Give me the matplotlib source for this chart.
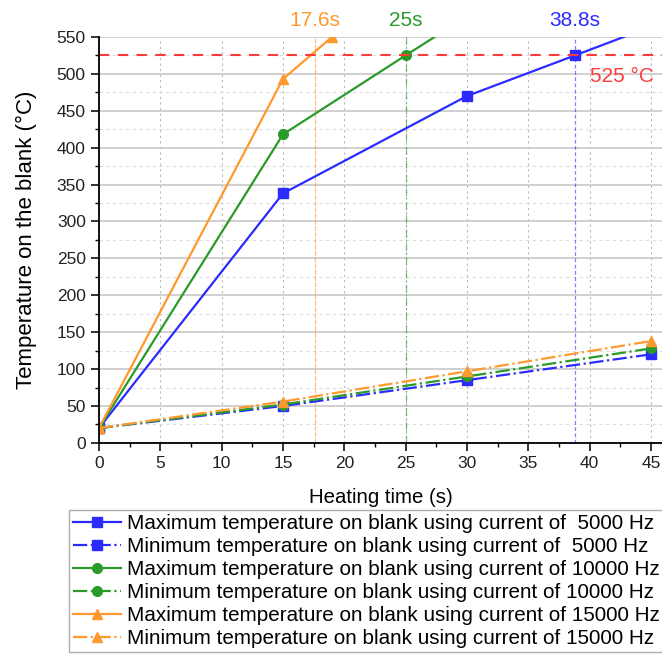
import matplotlib.pyplot as plt
from matplotlib.ticker import MultipleLocator

plt.rcParams['font.family'] = ['Liberation Sans', 'DejaVu Sans']

# heating time (s)
t_max_5k = [0, 15, 30, 38.8, 45]
t_max_10k = [0, 15, 25, 30]
t_max_15k = [0, 15, 19]
t_min = [0, 15, 30, 45]

# temperatures (deg C)
max_5k = [20, 338, 470, 525, 564]
max_10k = [20, 418, 525, 578]
max_15k = [20, 493, 550]
min_5k = [20, 50, 85, 120]
min_10k = [20, 52, 90, 128]
min_15k = [20, 56, 97, 138]

target_temp = 525
reach_times = [17.6, 25, 38.8]
reach_labels = ['17.6s', '25s', '38.8s']

blue = '#2b2bff'
green = '#2a9a2a'
orange = '#ff982e'
red = '#ff3b3b'

fig = plt.figure(figsize=(6.62, 6.65), dpi=100)
ax = fig.add_axes([0.1495, 0.334, 0.8505, 0.6104])

ax.plot(t_max_5k, max_5k, '-', marker='s', color=blue, ms=6.5, lw=1.6,
        label='Maximum temperature on blank using current of  5000 Hz')
ax.plot(t_min, min_5k, '-.', marker='s', color=blue, ms=6.5, lw=1.6,
        label='Minimum temperature on blank using current of  5000 Hz')
ax.plot(t_max_10k, max_10k, '-', marker='o', color=green, ms=7, lw=1.6,
        label='Maximum temperature on blank using current of 10000 Hz')
ax.plot(t_min, min_10k, '-.', marker='o', color=green, ms=7, lw=1.6,
        label='Minimum temperature on blank using current of 10000 Hz')
ax.plot(t_max_15k, max_15k, '-', marker='^', color=orange, ms=7.5, lw=1.6,
        label='Maximum temperature on blank using current of 15000 Hz')
ax.plot(t_min, min_15k, '-.', marker='^', color=orange, ms=7.5, lw=1.6,
        label='Minimum temperature on blank using current of 15000 Hz')

ax.axhline(target_temp, color=red, ls='--', lw=1.5, dashes=(5, 4))
styles = [(0, (4, 1)), (0, (6, 2, 1, 2)), (0, (3, 2))]
for x, lab, c, st in zip(reach_times, reach_labels, [orange, green, blue], styles):
    ax.axvline(x, color=c, lw=0.9, ls=st, alpha=0.6, zorder=1.5)
    ax.text(x, 560, lab, color=c, fontsize=15, ha='center', va='bottom')
ax.text(45.2, 496, '525 °C', color=red, fontsize=15, ha='right', va='center')

ax.set_xlim(0, 45.9)
ax.set_ylim(0, 550)
ax.xaxis.set_major_locator(MultipleLocator(5))
ax.xaxis.set_minor_locator(MultipleLocator(2.5))
ax.yaxis.set_major_locator(MultipleLocator(50))
ax.yaxis.set_minor_locator(MultipleLocator(25))
ax.grid(axis='y', which='major', color='#c8c8c8', lw=1.2)
ax.grid(axis='y', which='minor', color='#dddddd', lw=0.8, ls=(0, (3, 3)))
ax.grid(axis='x', which='major', color='#b8b8b8', lw=0.8, ls=(0, (2, 3)))
ax.set_axisbelow(True)
for s in ['top', 'right']:
    ax.spines[s].set_visible(False)
ax.spines['left'].set_linewidth(1.3)
ax.spines['bottom'].set_linewidth(1.3)
ax.tick_params(which='major', length=6, width=1.3, labelsize=12.5, colors='#222222')
ax.tick_params(which='minor', length=3, width=1.0)
ax.set_xlabel('Heating time (s)', fontsize=14.7, labelpad=12)
ax.set_ylabel('Temperature on the blank (°C)', fontsize=16, labelpad=14)

fig.legend(loc='upper right', bbox_to_anchor=(1.003, 1 - 510 / 665), fontsize=14.9,
           frameon=True, fancybox=False, edgecolor='#999999', handlelength=2.3,
           handletextpad=0.3, borderpad=0.2, labelspacing=0.19, borderaxespad=0)

fig.savefig('out.png', dpi=100)
